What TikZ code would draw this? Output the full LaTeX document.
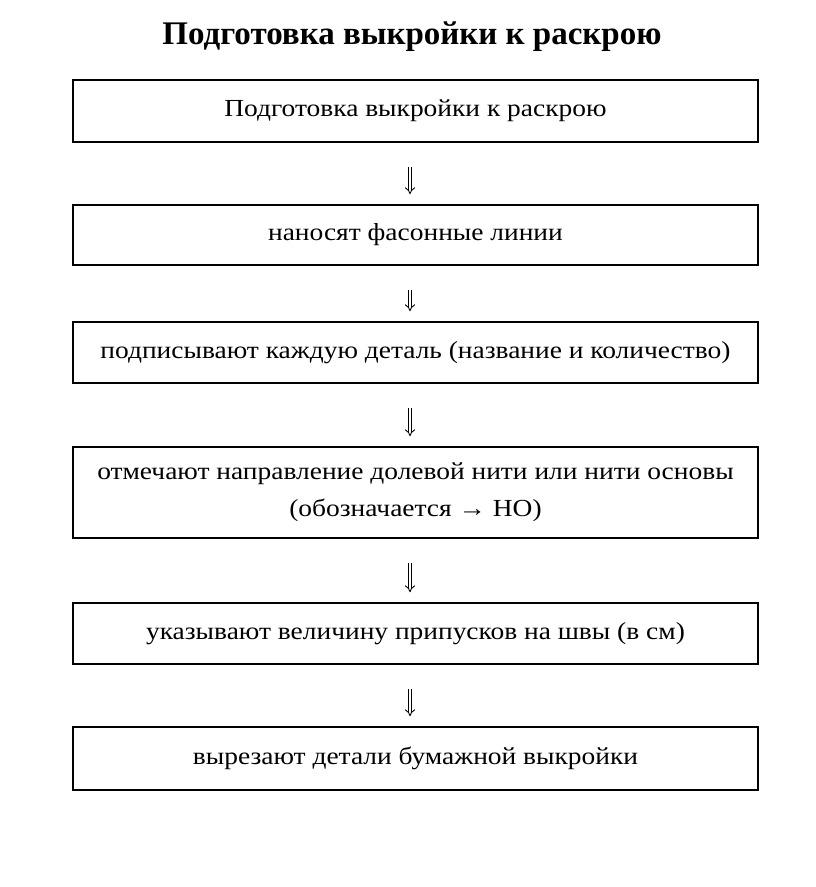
\documentclass[tikz,border=0pt]{standalone}
\usepackage{fontspec}
\setmainfont{Liberation Serif}
\newfontfamily\bodyfont[FakeStretch=1.12]{Liberation Serif}
\usetikzlibrary{arrows.meta}
\begin{document}
\begin{tikzpicture}[x=1pt,y=-1pt,
  stepbox/.style={draw, line width=1.6pt, minimum width=685pt, inner sep=0pt, align=center, font=\bodyfont\fontsize{24.5}{37}\selectfont},
  flow/.style={double, double distance=2.6pt, line width=0.9pt, -{Implies[length=5pt]}, shorten <=24pt, shorten >=10pt}]
\useasboundingbox (0,0) rectangle (816,887);
\node[font=\bfseries\fontsize{33}{38}\selectfont] (title) at (412,37) {Подготовка выкройки к раскрою};
\node[stepbox, minimum height=62pt] (b1) at (415.5,111) {Подготовка выкройки к раскрою};
\node[stepbox, minimum height=60pt] (b2) at (415.5,235) {наносят фасонные линии};
\node[stepbox, minimum height=61pt] (b3) at (415.5,352.5) {подписывают каждую деталь (название и количество)};
\node[stepbox, minimum height=91pt] (b4) at (415.5,492.5) {отмечают направление долевой нити или нити основы\\(обозначается → НО)};
\node[stepbox, minimum height=61pt] (b5) at (415.5,633.5) {указывают величину припусков на швы (в см)};
\node[stepbox, minimum height=63pt] (b6) at (415.5,758.5) {вырезают детали бумажной выкройки};
\draw[flow] (b1.south -| 410,0) -- (b2.north -| 410,0);
\draw[flow] (b2.south -| 410,0) -- (b3.north -| 410,0);
\draw[flow] (b3.south -| 410,0) -- (b4.north -| 410,0);
\draw[flow] (b4.south -| 410,0) -- (b5.north -| 410,0);
\draw[flow] (b5.south -| 410,0) -- (b6.north -| 410,0);
\end{tikzpicture}
\end{document}
